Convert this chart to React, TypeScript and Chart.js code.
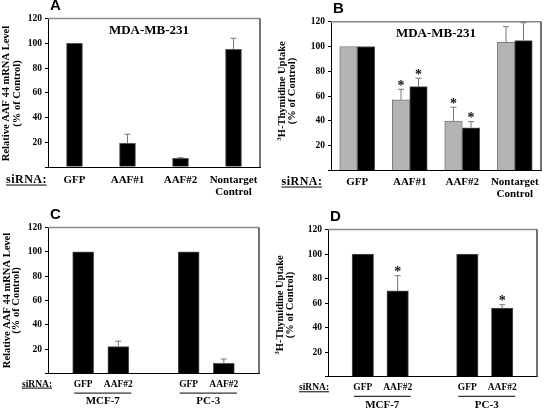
import React, { useEffect, useRef } from "react";
import { Chart, registerables } from "chart.js";
Chart.register(...registerables);

// ---------- DATA ----------
const yMax = 120;
const yStep = 20;

// Panel A: AAF44 mRNA, MDA-MB-231
const catsA: (string | string[])[] = ["GFP", "AAF#1", "AAF#2", ["Nontarget", "Control"]];
const valsA = [100, 19.2, 7, 95.1];
const errA = [0, 7.3, 0.5, 9];

// Panel B: 3H-thymidine uptake, MDA-MB-231 (two series)
const catsB: (string | string[])[] = ["GFP", "AAF#1", "AAF#2", ["Nontarget", "Control"]];
const grayB = [100, 57, 39.9, 103.4];
const grayErrB = [0, 8.5, 11.1, 12.6];
const grayStarB = [false, true, true, false];
const blackB = [100, 67.6, 34.5, 104.7];
const blackErrB = [0, 6.8, 4.9, 14.5];
const blackStarB = [false, true, true, false];

// Panels C and D: MCF-7 and PC-3 (empty slots separate the cell lines)
const catsCD = ["", "GFP", "AAF#2", "", "GFP", "AAF#2", ""];
const groupsCD = ["MCF-7", "PC-3"];
const groupSlotsCD = [[1, 2], [4, 5]];
const valsC = [null, 100, 22.2, null, 100, 8.5, null];
const errC = [0, 0, 4.4, 0, 0, 3.5, 0];
const valsD = [null, 100, 70, null, 100, 56, null];
const errD = [0, 0, 12.4, 0, 0, 2.7, 0];
const starD = [false, false, true, false, false, true, false];

const titleAB = "MDA-MB-231";
const yTitleMrna = ["Relative AAF 44 mRNA Level", "(% of Control)"];
const yTitleThy = ["H-Thymidine Uptake", "(% of Control)"];
const thySup = "3";
const siRNA = "siRNA:";

// ---------- STYLE ----------
const SERIF = '"Liberation Serif", "Times New Roman", serif';
const SANS = '"Liberation Sans", Arial, sans-serif';
const f = (size: number, fam = SERIF) => `bold ${size}px ${fam}`;
const BLACK = "#000000";
const GRAY = "#b4b4b4";

type DS = { data: (number | null)[]; err: number[]; stars?: boolean[]; color: string; border: string };
type Cfg = {
  pos: [number, number];
  area: { l: number; r: number; t: number; b: number };
  labels: any[];
  offset: boolean;
  thickness: number;
  datasets: DS[];
  letter: string;
  title?: string;
  yTitle: string[];
  sup?: string;
  yTitleX: [number, number];
  yTitleCY: number;
  labelSize: number;
  labelDy: number;
  siX: number;
  siSize: number;
  siSpacing: number;
  groups?: boolean;
};

const panels: Cfg[] = [
  {
    pos: [0, 0], area: { l: 48, r: 260, t: 18.6, b: 167 }, labels: catsA, offset: true, thickness: 16,
    datasets: [{ data: valsA, err: errA, color: BLACK, border: "#555" }],
    letter: "A", title: titleAB, yTitle: yTitleMrna, yTitleX: [6, 17], yTitleCY: 93.5,
    labelSize: 11, labelDy: 13, siX: 26.5, siSize: 12, siSpacing: 0.5,
  },
  {
    pos: [272, 0], area: { l: 59, r: 269, t: 21.7, b: 170.5 }, labels: catsB, offset: true, thickness: 17.5,
    datasets: [
      { data: grayB, err: grayErrB, stars: grayStarB, color: GRAY, border: "#7a7a7a" },
      { data: blackB, err: blackErrB, stars: blackStarB, color: BLACK, border: "#555" },
    ],
    letter: "B", title: titleAB, yTitle: yTitleThy, sup: thySup, yTitleX: [10, 20], yTitleCY: 91,
    labelSize: 11, labelDy: 11.5, siX: 30, siSize: 12, siSpacing: 0.5,
  },
  {
    pos: [0, 204], area: { l: 48, r: 259, t: 23.5, b: 169.6 }, labels: catsCD, offset: false, thickness: 21,
    datasets: [{ data: valsC, err: errC, color: BLACK, border: "#555" }],
    letter: "C", yTitle: yTitleMrna, yTitleX: [7, 16.5], yTitleCY: 96.5,
    labelSize: 9.5, labelDy: 10.5, siX: 37, siSize: 9.5, siSpacing: 0, groups: true,
  },
  {
    pos: [272, 204], area: { l: 56, r: 265, t: 25.5, b: 172.8 }, labels: catsCD, offset: false, thickness: 21.5,
    datasets: [{ data: valsD, err: errD, stars: starD, color: BLACK, border: "#555" }],
    letter: "D", yTitle: yTitleThy, sup: thySup, yTitleX: [8, 18], yTitleCY: 101,
    labelSize: 9.5, labelDy: 11, siX: 42, siSize: 9.5, siSpacing: 0, groups: true,
  },
];

function makePlugin(cfg: Cfg) {
  return {
    id: "decor" + cfg.letter,
    afterDraw(chart: any) {
      const { ctx, chartArea: a, scales } = chart;
      const xs = scales.x;
      const ys = scales.y;
      ctx.save();
      // frame: top and right
      ctx.lineWidth = 1.5;
      ctx.strokeStyle = "#8a8a8a";
      ctx.beginPath();
      ctx.moveTo(a.left, a.top);
      ctx.lineTo(a.right, a.top);
      ctx.stroke();
      ctx.strokeStyle = "#444";
      ctx.beginPath();
      ctx.moveTo(a.right, a.top);
      ctx.lineTo(a.right, a.bottom);
      ctx.stroke();

      // error bars + asterisks
      cfg.datasets.forEach((ds, di) => {
        const meta = chart.getDatasetMeta(di);
        ds.data.forEach((v, j) => {
          if (v == null) return;
          const el = meta.data[j];
          const x = el.x;
          const e = ds.err[j] || 0;
          const yTop = ys.getPixelForValue(v + e);
          if (e > 0) {
            ctx.strokeStyle = "#777";
            ctx.lineWidth = 1;
            ctx.beginPath();
            ctx.moveTo(x, el.y);
            ctx.lineTo(x, yTop);
            ctx.moveTo(x - 3, yTop);
            ctx.lineTo(x + 3, yTop);
            ctx.stroke();
          }
          if (ds.stars && ds.stars[j]) {
            const size = 14;
            ctx.fillStyle = "#111";
            ctx.font = f(size);
            ctx.textAlign = "center";
            ctx.textBaseline = "alphabetic";
            ctx.fillText("*", x, yTop - 6 + 0.48 * size);
          }
        });
      });

      // x labels
      ctx.fillStyle = "#000";
      ctx.textAlign = "center";
      ctx.textBaseline = "middle";
      ctx.font = f(cfg.labelSize);
      const rowY = a.bottom + cfg.labelDy;
      cfg.labels.forEach((lab: any, i: number) => {
        const lines = Array.isArray(lab) ? lab : [lab];
        if (!lines[0]) return;
        const x = xs.getPixelForValue(i);
        lines.forEach((ln: string, k: number) => ctx.fillText(ln, x, rowY + k * 12.5));
      });

      // siRNA: underlined
      ctx.font = f(cfg.siSize);
      (ctx as any).letterSpacing = cfg.siSpacing + "px";
      const w = ctx.measureText(siRNA).width;
      ctx.fillText(siRNA, cfg.siX, rowY);
      (ctx as any).letterSpacing = "0px";
      ctx.strokeStyle = "#000";
      ctx.lineWidth = 1;
      ctx.beginPath();
      const uy = rowY + cfg.siSize * 0.42;
      ctx.moveTo(cfg.siX - w / 2, uy);
      ctx.lineTo(cfg.siX + w / 2 - cfg.siSpacing, uy);
      ctx.stroke();

      // cell line groups
      if (cfg.groups) {
        groupsCD.forEach((g, gi) => {
          const [s0, s1] = groupSlotsCD[gi];
          const x0 = xs.getPixelForValue(s0);
          const x1 = xs.getPixelForValue(s1);
          const ly = a.bottom + 19.5;
          ctx.beginPath();
          ctx.moveTo(x0 - 9, ly);
          ctx.lineTo(x1 + 13, ly);
          ctx.stroke();
          ctx.font = f(11);
          ctx.fillText(g, (x0 + x1) / 2 + 2, a.bottom + 28);
        });
      }

      // inner title
      if (cfg.title) {
        ctx.font = f(13);
        ctx.fillText(cfg.title, (a.left + a.right) / 2 + (cfg.letter === "A" ? -5 : 0), a.top + 12);
      }

      // panel letter
      ctx.font = f(15, SANS);
      ctx.textAlign = "left";
      ctx.fillText(cfg.letter, a.left + 2, a.top - 12.5);

      // y title (rotated)
      const ts = 10.5;
      cfg.yTitle.forEach((ln, k) => {
        ctx.save();
        ctx.translate(cfg.yTitleX[k], cfg.yTitleCY);
        ctx.rotate(-Math.PI / 2);
        ctx.textBaseline = "middle";
        if (k === 0 && cfg.sup) {
          ctx.font = f(ts * 0.65);
          const ws = ctx.measureText(cfg.sup).width;
          ctx.font = f(ts);
          const wm = ctx.measureText(ln).width;
          const start = -(ws + wm) / 2;
          ctx.textAlign = "left";
          ctx.font = f(ts * 0.65);
          ctx.fillText(cfg.sup, start, -ts * 0.3);
          ctx.font = f(ts);
          ctx.fillText(ln, start + ws, 0);
        } else {
          ctx.textAlign = "center";
          ctx.font = f(ts);
          ctx.fillText(ln, 0, 0);
        }
        ctx.restore();
      });
      ctx.restore();
    },
  };
}

function Panel({ cfg }: { cfg: Cfg }) {
  const ref = useRef<HTMLCanvasElement | null>(null);
  useEffect(() => {
    if (!ref.current) return;
    const { l, r, t, b } = cfg.area;
    const chart = new Chart(ref.current, {
      type: "bar",
      data: {
        labels: cfg.labels.map((x: any) => (Array.isArray(x) ? x.join(" ") : x)),
        datasets: cfg.datasets.map((ds) => ({
          data: ds.data as any,
          backgroundColor: ds.color,
          borderColor: ds.border,
          borderWidth: 1,
          barThickness: cfg.thickness,
        })),
      },
      options: {
        responsive: false,
        animation: false,
        devicePixelRatio: 1,
        events: [],
        layout: { padding: { top: t, right: 272 - r, left: 0, bottom: 0 } },
        plugins: { legend: { display: false }, tooltip: { enabled: false } },
        scales: {
          x: {
            type: "category",
            offset: cfg.offset,
            ticks: { display: false },
            grid: { display: false },
            border: { display: true, color: "#000", width: 1 },
            afterFit: (s: any) => {
              s.height = 204 - b;
            },
          },
          y: {
            type: "linear",
            min: 0,
            max: yMax,
            ticks: {
              stepSize: yStep,
              color: "#000",
              padding: 3,
              font: { family: SERIF, size: 9.5, weight: "bold" },
              callback: (v: any) => (v === 0 ? "" : String(v)),
            },
            grid: { display: true, drawOnChartArea: false, drawTicks: true, tickLength: 3, color: "#000" },
            border: { display: true, color: "#000", width: 1 },
            afterFit: (s: any) => {
              s.width = l;
            },
          },
        },
      },
      plugins: [makePlugin(cfg)],
    });
    return () => chart.destroy();
  }, [cfg]);
  return (
    <canvas
      ref={ref}
      width={272}
      height={204}
      style={{ position: "absolute", left: cfg.pos[0], top: cfg.pos[1], width: 272, height: 204 }}
    />
  );
}

export default function App() {
  return (
    <div style={{ position: "absolute", left: 0, top: 0, width: 544, height: 408, background: "#fff" }}>
      {panels.map((p) => (
        <Panel key={p.letter} cfg={p} />
      ))}
    </div>
  );
}
